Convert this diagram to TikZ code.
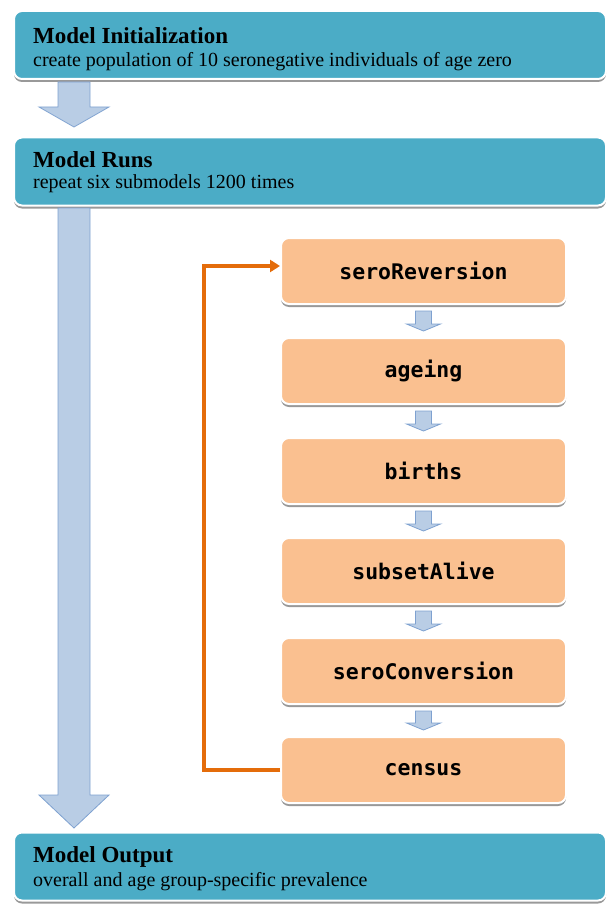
\documentclass[tikz,border=0pt]{standalone}
\usepackage{fontspec}
\setmainfont{Liberation Serif}
\newfontfamily\codefont{DejaVu Sans Mono}
\usetikzlibrary{arrows.meta,calc}
\definecolor{aqua}{HTML}{4BACC6}
\definecolor{peach}{HTML}{FAC090}
\definecolor{arrfill}{HTML}{B9CDE5}
\definecolor{arrdraw}{HTML}{7EA1D0}
\definecolor{loopor}{HTML}{E46C0A}
\tikzset{
  shadowed/.style={preaction={fill=black!40,transform canvas={yshift=-3pt}}},
  bluebox/.style={shadowed,rectangle,rounded corners=8pt,fill=aqua,draw=white,line width=2pt,
    minimum width=592pt,minimum height=68pt,inner sep=0pt},
  orbox/.style={shadowed,rectangle,rounded corners=8pt,fill=peach,draw=white,line width=2pt,
    minimum width=285pt,minimum height=66pt,inner sep=0pt,font=\codefont\bfseries\fontsize{21.5}{25}\selectfont},
  headtxt/.style={anchor=west,inner sep=0pt,font=\bfseries\fontsize{23}{27}\selectfont},
  subtxt/.style={anchor=west,inner sep=0pt,font=\fontsize{20}{24}\selectfont},
  blockarrow/.style={fill=arrfill,draw=arrdraw,line width=0.8pt,line join=miter},
  loopline/.style={draw=loopor,line width=4pt,-{Triangle[length=10pt,width=12pt]}}
}
\begin{document}
\begin{tikzpicture}[x=1pt,y=-1pt]
\useasboundingbox (0,0) rectangle (608,904);
% blue boxes
\node[bluebox] (init) at (310,45) {};
\node[headtxt] (initH) at (33,36) {Model Initialization};
\node[subtxt] (initS) at (33,62) {create population of 10 seronegative individuals of age zero};
\node[bluebox] (runs) at (310,171.5) {};
\node[headtxt] (runsH) at (33,160) {Model Runs};
\node[subtxt] (runsS) at (33,184) {repeat six submodels 1200 times};
\node[bluebox] (out) at (310,866.5) {};
\node[headtxt] (outH) at (33,857) {Model Output};
\node[subtxt] (outS) at (33,882) {overall and age group-specific prevalence};
% block arrows
\draw[blockarrow] (58,82) -- (58,107) -- (39,107) -- (74,127) -- (109,107) -- (90,107) -- (90,82) -- cycle;
\draw[blockarrow] (58,208) -- (58,795) -- (39,795) -- (74,828) -- (109,795) -- (90,795) -- (90,208) -- cycle;
% orange boxes
\foreach \n/\t/\y in {b1/seroReversion/271, b2/ageing/371, b3/births/471, b4/subsetAlive/571, b5/seroConversion/671, b6/census/770}{
  \node[orbox] (\n) at (423.5,\y) {\t};
}
% small arrows
\foreach \a/\b in {b1/b2,b2/b3,b3/b4,b4/b5,b5/b6}{
  \path let \p1=(\a.south), \p2=(\b.north) in
    [blockarrow] (\x1-8,\y1-6) -- (\x1-8,\y2+13) -- (\x1-17,\y2+13) -- (\x1,\y2+6) -- (\x1+17,\y2+13) -- (\x1+8,\y2+13) -- (\x1+8,\y1-6) -- cycle;
}
% loop
\draw[loopline] (b6.west) -- ++(-76,0) |- ([yshift=5pt]b1.west);
\end{tikzpicture}
\end{document}
